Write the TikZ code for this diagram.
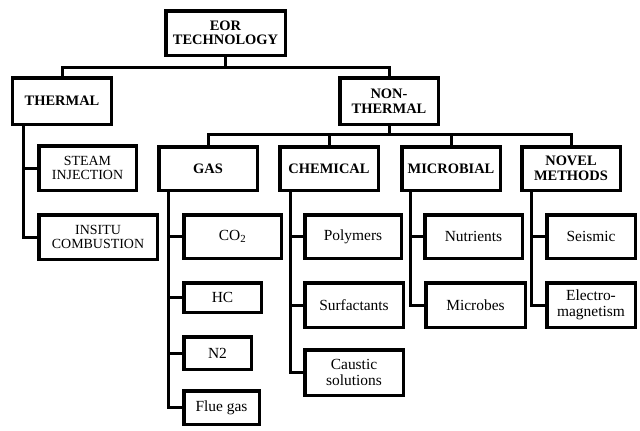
\documentclass[tikz,border=0pt]{standalone}
\usepackage{fontspec}
\setmainfont{Liberation Serif}
\newfontfamily\tnr{Liberation Serif}
\begin{document}
\begin{tikzpicture}[x=1bp,y=-1bp,
  box/.style={draw, line width=3.5bp, inner sep=0pt, align=center, font=\tnr\fontsize{15.5}{16}\selectfont},
  head/.style={box, font=\tnr\fontsize{14.5}{14.5}\selectfont\bfseries},
  sub/.style={box, font=\tnr\fontsize{14}{14.5}\selectfont},
  conn/.style={line width=3bp, line join=miter}]
\useasboundingbox (0,0) rectangle (640,430);
\newcommand{\bx}[8]{\node[#1, minimum width=#4bp-3.5bp, minimum height=#5bp-3.5bp] (#6) at (#2,#3) {#7};}
% level 0/1
\bx{head}{225.5}{33}{123}{48}{eor}{EOR\\TECHNOLOGY}{}
\bx{head}{62}{101}{102}{50}{thermal}{THERMAL}{}
\bx{head}{389}{101}{102}{50}{nonthermal}{NON-\\THERMAL}{}
% thermal children
\bx{sub}{87.5}{168}{101}{48}{steam}{STEAM\\INJECTION}{}
\bx{sub}{98}{237}{122}{48}{insitu}{INSITU\\COMBUSTION}{}
% non-thermal children
\bx{head}{208}{168.5}{102}{47}{gas}{GAS}{}
\bx{head}{329}{168.5}{102}{47}{chemical}{CHEMICAL}{}
\bx{head}{451}{168.5}{102}{47}{microbial}{MICROBIAL}{}
\bx{head}{571}{168.5}{102}{47}{novel}{NOVEL\\METHODS}{}
% gas
\bx{box}{232.5}{236.5}{101}{47}{co2}{CO\textsubscript{2}}{}
\bx{box}{222.5}{297.5}{81}{33}{hc}{HC}{}
\bx{box}{217.5}{353}{71}{36}{ntwo}{N2}{}
\bx{box}{221.5}{407.5}{79}{37}{flue}{Flue gas}{}
% chemical
\bx{box}{353}{236.5}{100}{47}{polymers}{Polymers}{}
\bx{box}{354}{305}{102}{48}{surf}{Surfactants}{}
\bx{box}{354}{372.5}{102}{49}{caustic}{Caustic\\solutions}{}
% microbial
\bx{box}{473.5}{236.5}{101}{47}{nutrients}{Nutrients}{}
\bx{box}{475.5}{305}{103}{48}{microbes}{Microbes}{}
% novel
\bx{box}{591}{236.5}{92}{47}{seismic}{Seismic}{}
\bx{box}{591}{305}{92}{48}{electro}{Electro-\\magnetism}{}
% junctions
\coordinate (j1) at (225.5,67);
\coordinate (j2) at (389,134);
\coordinate (tx) at (23,0);
\coordinate (gx) at (168,0);
\coordinate (cx) at (290,0);
\coordinate (mx) at (410,0);
\coordinate (nx) at (531,0);
% connectors
\draw[conn] (eor.south) -- (j1);
\draw[conn] (thermal.north) |- (j1) -| (nonthermal.north);
\draw[conn] (nonthermal.south) -- (j2);
\draw[conn] (gas.north) |- (j2) -| (novel.north);
\draw[conn] (chemical.north) -- (chemical.north |- j2);
\draw[conn] (microbial.north) -- (microbial.north |- j2);
\draw[conn] (thermal.south -| tx) |- (insitu.west);
\draw[conn] (steam.west) -- (steam.west -| tx);
\draw[conn] (gas.south -| gx) |- (flue.west);
\draw[conn] (co2.west) -- (co2.west -| gx);
\draw[conn] (hc.west) -- (hc.west -| gx);
\draw[conn] (ntwo.west) -- (ntwo.west -| gx);
\draw[conn] (chemical.south -| cx) |- (caustic.west);
\draw[conn] (polymers.west) -- (polymers.west -| cx);
\draw[conn] (surf.west) -- (surf.west -| cx);
\draw[conn] (microbial.south -| mx) |- (microbes.west);
\draw[conn] (nutrients.west) -- (nutrients.west -| mx);
\draw[conn] (novel.south -| nx) |- (electro.west);
\draw[conn] (seismic.west) -- (seismic.west -| nx);
\end{tikzpicture}
\end{document}
